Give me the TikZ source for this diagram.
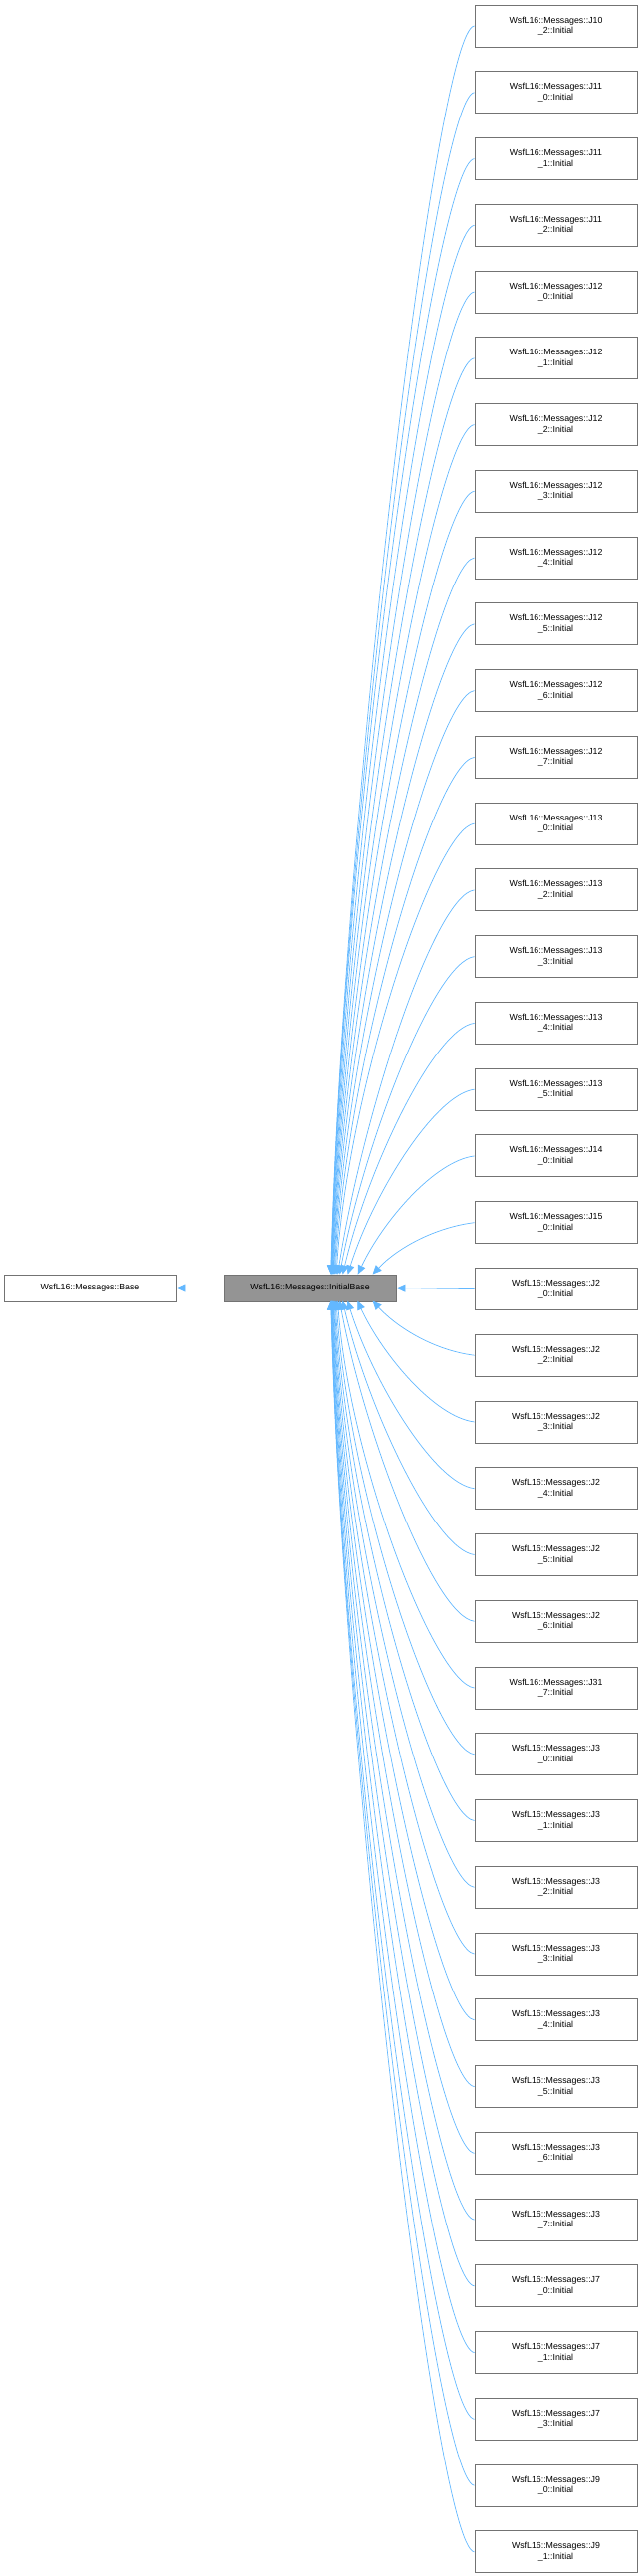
\documentclass[tikz,border=0pt]{standalone}
\usepackage{fontspec}
\setmainfont{Liberation Sans}
\usetikzlibrary{arrows.meta,calc}
\begin{document}
\begin{tikzpicture}[x=1pt,y=1pt,
 box/.style={draw=black!55,line width=0.9pt,fill=white,inner sep=0pt,font=\fontsize{8.8}{10.5}\selectfont,align=center},
 edge/.style={color={rgb,255:red,99;green,184;blue,255},line width=0.7pt,-{Triangle[length=9pt,width=8pt]}}]
\useasboundingbox (0,0) rectangle (646,-2587);
\node[box,fill=black!42,minimum width=173pt,minimum height=27pt] (mid) at (311.5,-1293.5) {WsfL16::Messages::InitialBase};
\node[box,minimum width=173pt,minimum height=27pt] (base) at (90.5,-1293.5) {WsfL16::Messages::Base};
\draw[edge] (mid.west) -- (base.east);
\foreach [count=\i from 0] \a/\b in {J10/2,J11/0,J11/1,J11/2,J12/0,J12/1,J12/2,J12/3,J12/4,J12/5,J12/6,J12/7,J13/0,J13/2,J13/3,J13/4,J13/5,J14/0,J15/0,J2/0,J2/2,J2/3,J2/4,J2/5,J2/6,J31/7,J3/0,J3/1,J3/2,J3/3,J3/4,J3/5,J3/6,J3/7,J7/0,J7/1,J7/3,J9/0,J9/1}{
  \pgfmathsetmacro\yy{-26-66.76*\i}
  \node[box,minimum width=163pt,minimum height=42pt] (b\i) at (558.5,\yy) {WsfL16::Messages::\a\\\_\b::Initial};
  \pgfmathsetmacro\d{\yy+1293.5}
  \pgfmathsetmacro\ad{abs(\d)}
  \ifdim\ad pt<60pt
    \draw[edge] (b\i.west) .. controls +(-30,0) and +(30,{0.3*\d}) .. ($(mid.east)+(0,{\d*0.1})$);
  \else
    \pgfmathsetmacro\ex{min(150,105+4000/\ad)}
    \pgfmathsetmacro\sg{\d>0?1:-1}
    \pgfmathsetmacro\ey{\sg>0?0:-27}
    \pgfmathsetmacro\cy{\sg*min(0.4*\ad,450)}
    \draw[edge] (b\i.west) .. controls +(-40,{-\sg*5}) and +({0.15*\ad>60?12:25},\cy) .. ($(mid.north west)+(\ex,\ey)$);
  \fi
}
\end{tikzpicture}
\end{document}
